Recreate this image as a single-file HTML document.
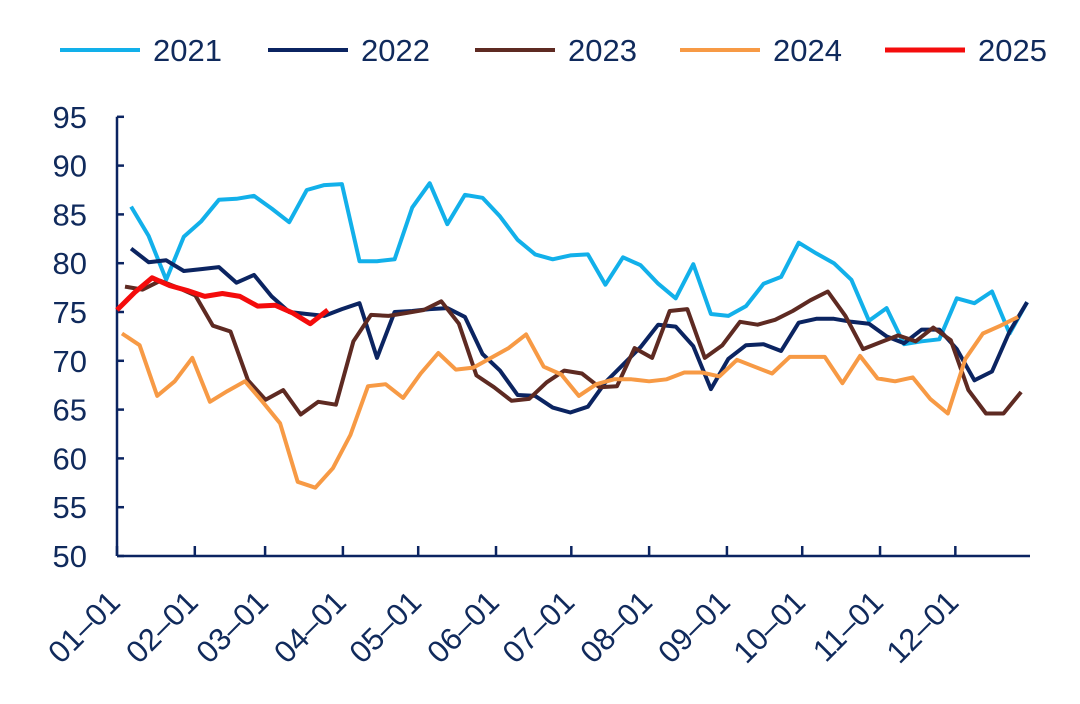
<!DOCTYPE html>
<html><head><meta charset="utf-8"><style>
html,body{margin:0;padding:0;background:#fff;}
svg text{font-family:"Liberation Sans",sans-serif;fill:#102a5c;}
</style></head><body>
<svg id="chart" width="1080" height="699" viewBox="0 0 1080 699" xmlns="http://www.w3.org/2000/svg">
<g id="legend"></g>
<g id="axes"></g>
<g id="series"></g>
</svg>
<script>
const years = ["2021","2022","2023","2024","2025"];
const colors = ["#12b0ea","#0b2461","#5e2a22","#f79a45","#f40c0c"];
const startDays = [5.6,5.6,3.2,2,0];
const s2021 = [85.8,82.8,78.3,82.7,84.3,86.5,86.6,86.9,85.6,84.2,87.5,88,88.1,80.2,80.2,80.4,85.7,88.2,84,87,86.7,84.8,82.4,80.9,80.4,80.8,80.9,77.8,80.6,79.8,77.9,76.4,79.9,74.8,74.6,75.6,77.9,78.6,82.1,81,80,78.3,74.1,75.4,71.7,72,72.2,76.4,75.9,77.1,72.8,76];
const s2022 = [81.5,80.1,80.3,79.2,79.4,79.6,78,78.8,76.6,75,74.8,74.6,75.3,75.9,70.3,75,75.1,75.3,75.4,74.5,70.7,69,66.5,66.4,65.2,64.7,65.3,67.8,69.6,71.4,73.7,73.5,71.5,67.1,70.2,71.6,71.7,71,73.9,74.3,74.3,74,73.8,72.5,71.8,73.2,73.2,71.2,68,68.9,73,76];
const s2023 = [77.6,77.3,78.2,77.5,76.7,73.6,73,68,66,67,64.5,65.8,65.5,72,74.7,74.6,74.9,75.2,76.1,73.8,68.5,67.3,65.9,66.1,67.8,69,68.7,67.3,67.4,71.3,70.3,75.1,75.3,70.3,71.6,74,73.7,74.2,75.1,76.2,77.1,74.6,71.2,71.9,72.6,72,73.4,72.1,67,64.6,64.6,66.8];
const s2024 = [72.8,71.6,66.4,67.9,70.3,65.8,66.9,67.9,65.8,63.6,57.6,57,59,62.4,67.4,67.6,66.2,68.7,70.8,69.1,69.3,70.3,71.3,72.7,69.4,68.6,66.4,67.6,68.1,68.1,67.9,68.1,68.8,68.8,68.4,70.1,69.4,68.7,70.4,70.4,70.4,67.7,70.5,68.2,67.9,68.3,66.1,64.6,70.2,72.8,73.6,74.5];
const s2025 = [75.2,77,78.5,77.7,77.2,76.6,76.9,76.6,75.6,75.7,74.9,73.8,75.2];
const yTicks = [50,55,60,65,70,75,80,85,90,95];
const xTickLabels = ["01–01","02–01","03–01","04–01","05–01","06–01","07–01","08–01","09–01","10–01","11–01","12–01"];
const xTickDays = [0,31,59,90,120,151,181,212,243,273,304,334];

const NS="http://www.w3.org/2000/svg";
const X0=117, PXD=2.51, Y0=556, PXU=9.76;
const xs = d => X0 + d*PXD;
const ys = v => Y0 - (v-50)*PXU;
function mk(tag, attrs, parent){const e=document.createElementNS(NS,tag);for(const k in attrs)e.setAttribute(k,attrs[k]);parent.appendChild(e);return e;}
const axes=document.getElementById('axes');
let el=mk('line',{x1:X0,y1:ys(95),x2:X0,y2:Y0,stroke:'#0b2461','stroke-width':2.5},axes);


el=mk('line',{x1:X0,y1:Y0,x2:1030,y2:Y0,stroke:'#0b2461','stroke-width':2.5},axes);


yTicks.forEach(v=>{
  const t=mk('line',{x1:X0,y1:ys(v),x2:X0+7,y2:ys(v),stroke:'#0b2461','stroke-width':2.5},axes);
  
  
  const l=mk('text',{x:87,y:ys(v)+11,'text-anchor':'end','font-size':31},axes);
  l.textContent=v;
  
  
});
xTickDays.forEach((d,i)=>{
  const x=xs(d);
  const t=mk('line',{x1:x,y1:Y0,x2:x,y2:Y0-10,stroke:'#0b2461','stroke-width':2.5},axes);
  
  
  const l=mk('text',{x:x+5,y:Y0+48,'text-anchor':'end','font-size':31,transform:`rotate(-45 ${x+5} ${Y0+48})`},axes);
  l.textContent=xTickLabels[i];
  
  
});
const series=[s2021,s2022,s2023,s2024,s2025];
const sg=document.getElementById('series');
series.forEach((arr,k)=>{
  const pts=arr.map((v,i)=>xs(startDays[k]+i*7).toFixed(1)+','+ys(v).toFixed(1)).join(' ');
  const p=mk('polyline',{points:pts,fill:'none',stroke:colors[k],'stroke-width':k==4?5:4,'stroke-linejoin':'round'},sg);
  
  
});
const lg=document.getElementById('legend');
const lx=[60,268,475,680,885];
years.forEach((y,k)=>{
  const g=mk('g',{},lg);
  
  
  mk('line',{x1:lx[k],y1:50,x2:lx[k]+80,y2:50,stroke:colors[k],'stroke-width':k==4?5:4},g);
  const t=mk('text',{x:lx[k]+93,y:61,'font-size':31},g);
  t.textContent=y;
});
</script>
</body></html>
